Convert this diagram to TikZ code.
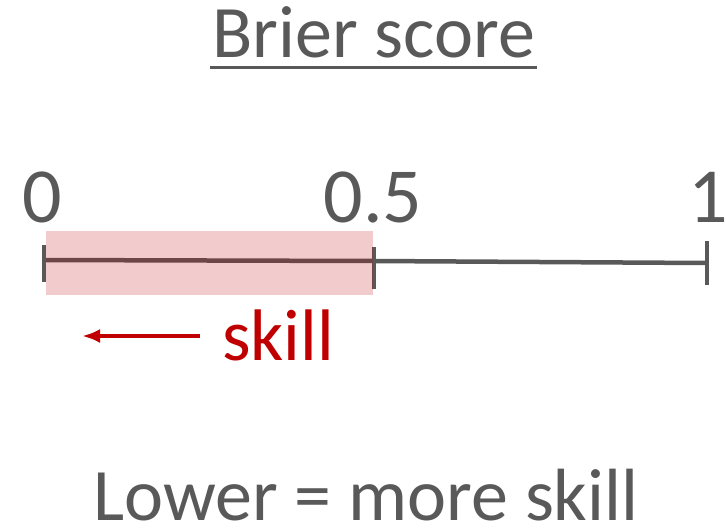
\documentclass[tikz,border=0pt]{standalone}
\usepackage{fontspec}
\setmainfont{Carlito}
\usetikzlibrary{positioning,arrows.meta}
\definecolor{axisgray}{HTML}{595959}
\definecolor{skillred}{HTML}{C00000}

\begin{document}
\begin{tikzpicture}[x=1pt,y=-1pt,
    lbl/.style={inner sep=0pt, text=axisgray, font=\fontsize{78}{90}\selectfont},
    tick/.style={draw=axisgray, line width=4.5pt}]
        \useasboundingbox (0,0) rectangle (726,531);
        % title
        \node[inner sep=0pt, anchor=base west, text=axisgray, font=\fontsize{74}{88}\selectfont] (title) at (212,57) {Brier score};
        \draw[axisgray, line width=3pt] ([xshift=-2pt, yshift=-10pt]title.base west) -- ([xshift=2pt, yshift=-10pt]title.base east);

        % axis
        \coordinate (a0) at (44,260);
        \coordinate (a5) at (374,261);
        \coordinate (a1) at (707,263);
        \draw[axisgray, line width=4.5pt] (a0) -- (a5) -- (a1);
        \draw[tick] ([yshift=-22pt]a0) -- ([yshift=15pt]a0);
        \draw[tick] ([yshift=-28pt]a5) -- ([yshift=14pt]a5);
        \draw[tick] ([yshift=-22pt]a1) -- ([yshift=22pt]a1);
        \node[lbl, anchor=base] (l0) at (42,222) {0};
        \node[lbl, anchor=base] (l5) at (373,222) {0.5};
        \node[lbl, anchor=base] (l1) at (708,222) {1};

        % skill region
        \fill[skillred, fill opacity=0.2] (46,231) rectangle (373,295);
        \node[inner sep=0pt, anchor=base west, text=skillred, font=\fontsize{73}{86}\selectfont] (skill) at (222,360) {skill};
        \coordinate (arrowend) at (82,336);
        \draw[skillred, line width=4pt, -{Latex[length=18pt,width=14pt]}] ([xshift=-22pt]skill.west |- arrowend) -- (arrowend);

        % bottom text
        \node[inner sep=0pt, anchor=base, text=axisgray, font=\fontsize{74}{88}\selectfont] (lower) at (366,520) {Lower = more skill};
    \end{tikzpicture}
\end{document}
